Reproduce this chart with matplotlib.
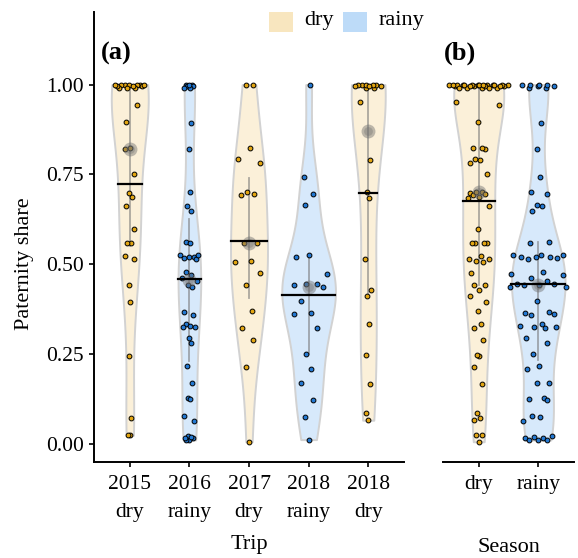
import numpy as np
import matplotlib
matplotlib.use("Agg")
import matplotlib.pyplot as plt
from matplotlib.patches import Rectangle

plt.rcParams["font.family"] = ["Liberation Serif", "DejaVu Serif"]

# paternity share per trip
share_2015_dry = [1.0, 1.0, 0.995, 1.0, 0.99, 1.0, 0.995, 1.0, 0.99, 1.0, 0.995, 0.99, 1.0,
                  0.943, 0.897, 0.822, 0.820, 0.750, 0.697, 0.688, 0.662, 0.597, 0.559, 0.559,
                  0.522, 0.515, 0.441, 0.393, 0.244, 0.070, 0.023, 0.023]
share_2016_rainy = [1.0, 0.995, 0.99, 1.0, 0.995, 0.99, 1.0,
                    0.892, 0.820, 0.700, 0.662, 0.648, 0.562, 0.559,
                    0.526, 0.520, 0.519, 0.516, 0.515, 0.524,
                    0.477, 0.470, 0.460, 0.452, 0.443, 0.436, 0.367, 0.357,
                    0.333, 0.328, 0.325, 0.324, 0.293, 0.280,
                    0.215, 0.170, 0.126, 0.123, 0.077, 0.063,
                    0.020, 0.015, 0.010, 0.010, 0.015, 0.018]
share_2017_dry = [1.0, 1.0, 0.822, 0.792, 0.782, 0.700, 0.695, 0.692, 0.560, 0.560,
                  0.508, 0.506, 0.474, 0.441, 0.369, 0.323, 0.288, 0.212, 0.005]
share_2018_rainy = [1.0, 0.743, 0.694, 0.664, 0.525, 0.520, 0.472, 0.445, 0.444, 0.441,
                    0.437, 0.397, 0.365, 0.362, 0.323, 0.249, 0.209, 0.169, 0.121, 0.074, 0.011]
share_2018_dry = [1.0, 0.99, 1.0, 0.995, 1.0, 1.0, 0.995, 0.99, 1.0, 0.995,
                  0.952, 0.790, 0.700, 0.685, 0.513, 0.429, 0.411, 0.333, 0.246, 0.165,
                  0.084, 0.065]

trip_labels = ["2015\ndry", "2016\nrainy", "2017\ndry", "2018\nrainy", "2018\ndry"]
trip_season = ["dry", "rainy", "dry", "rainy", "dry"]
trip_data = [share_2015_dry, share_2016_rainy, share_2017_dry, share_2018_rainy, share_2018_dry]
seasons = ["dry", "rainy"]
yticks = [0.0, 0.25, 0.5, 0.75, 1.0]

# widest half-width of each violin (x units), style only
halfwidth_trip = [0.31, 0.19, 0.31, 0.45, 0.285]
halfwidth_season = [0.42, 0.45]

key_color = {"dry": "#F8E6BF", "rainy": "#BDDBF8"}
violin_color = {"dry": "#FBF0D9", "rainy": "#D7E9FB"}
point_color = {"dry": "#E3A612", "rainy": "#2379D3"}

W, H = 578, 558


def px(x, y):
    return x / W, 1 - y / H


def nrd0(v):
    v = np.asarray(v)
    q75, q25 = np.percentile(v, [75, 25])
    lo = min(v.std(ddof=1), (q75 - q25) / 1.34)
    return 0.9 * lo * len(v) ** -0.2


def kde(v, grid, bw):
    v = np.asarray(v)
    z = (np.asarray(grid)[:, None] - v[None, :]) / bw
    return np.exp(-0.5 * z ** 2).sum(axis=1) / (len(v) * bw * np.sqrt(2 * np.pi))


def vdc(n):
    out = []
    for i in range(1, n + 1):
        x, denom, k = 0.0, 1.0, i
        while k:
            denom *= 2
            k, r = divmod(k, 2)
            x += r / denom
        out.append(x)
    return np.array(out)


def draw_panel(ax, groups, groups_season, halfwidths, spread):
    for i, (vals, season) in enumerate(zip(groups, groups_season)):
        pos = i + 1
        vals = np.asarray(vals)
        bw = nrd0(vals)
        grid = np.linspace(vals.min(), vals.max(), 512)
        dens = kde(vals, grid, bw)
        scale = halfwidths[i] / dens.max()
        hw = dens * scale
        ax.fill_betweenx(grid, pos - hw, pos + hw, facecolor=violin_color[season],
                         edgecolor="#D2D2D2", linewidth=1.4, zorder=1)
        q25, q50, q75 = np.percentile(vals, [25, 50, 75])
        ax.plot([pos, pos], [q25, q75], color="#777777", alpha=0.6, lw=1.3, zorder=2)
        # quasirandom offsets
        local = kde(vals, vals, bw * 0.5)
        local = local / local.max()
        rank = np.argsort(np.argsort(vals, kind="stable"))
        off = (2 * vdc(len(vals))[rank] - 1) * spread * halfwidths[i] * local
        ax.scatter(pos + off, vals, s=12, c=point_color[season], edgecolors="black",
                   linewidths=0.7, zorder=3)
        ax.scatter([pos], [q50], s=100, color="#6e6e6e", alpha=0.45, lw=0, zorder=4)
        ax.scatter([pos], [q50], s=40, color="#6e6e6e", alpha=0.35, lw=0, zorder=4)
        m = vals.mean()
        mhw = kde(vals, [m], bw)[0] * scale
        ax.plot([pos - mhw, pos + mhw], [m, m], color="black", lw=1.6, zorder=5)


fig = plt.figure(figsize=(W / 100, H / 100), dpi=100)
ax_a = fig.add_axes([94 / W, (H - 461.5) / H, 310 / W, (461.5 - 11.7) / H])
ax_b = fig.add_axes([443 / W, (H - 461.5) / H, 131 / W, (461.5 - 11.7) / H])

draw_panel(ax_a, trip_data, trip_season, halfwidth_trip, 0.85)
pooled = [[v for d, s in zip(trip_data, trip_season) if s == season for v in d] for season in seasons]
draw_panel(ax_b, pooled, seasons, halfwidth_season, 1.2)

for ax, labels in [(ax_a, trip_labels), (ax_b, seasons)]:
    ax.set_ylim(-0.05, 1.203)
    ax.set_xlim(0.4, len(labels) + 0.6)
    ax.set_xticks(range(1, len(labels) + 1))
    ax.set_xticklabels(labels, linespacing=1.65)
    for side in ["top", "right"]:
        ax.spines[side].set_visible(False)
    for side in ["left", "bottom"]:
        ax.spines[side].set_linewidth(1.4)
    ax.tick_params(direction="out", length=3.6, width=1.2, labelsize=15.5, pad=6)

ax_a.set_yticks(yticks)
ax_a.set_yticklabels([f"{t:.2f}" for t in yticks])
ax_a.tick_params(axis="y", pad=3.5)
ax_b.spines["left"].set_visible(False)
ax_b.set_yticks([])

fig.text(*px(25, 264), "Paternity share", rotation=90, ha="center", va="center", fontsize=16)
fig.text(*px(249, 544), "Trip", ha="center", va="center", fontsize=16)
fig.text(*px(509, 547), "Season", ha="center", va="center", fontsize=16)
fig.text(*px(101, 53), "(a)", ha="left", va="center", fontsize=19, fontweight="bold")
fig.text(*px(444, 53), "(b)", ha="left", va="center", fontsize=19, fontweight="bold")

# legend
for season, x0, tx in [("dry", 269, 304), ("rainy", 343, 379)]:
    fig.add_artist(Rectangle(px(x0, 32), 24 / W, 20 / H, transform=fig.transFigure,
                             facecolor=key_color[season], edgecolor="none"))
    fig.text(*px(tx, 21), season, ha="left", va="center", fontsize=16)

fig.savefig("out.png", dpi=100)
